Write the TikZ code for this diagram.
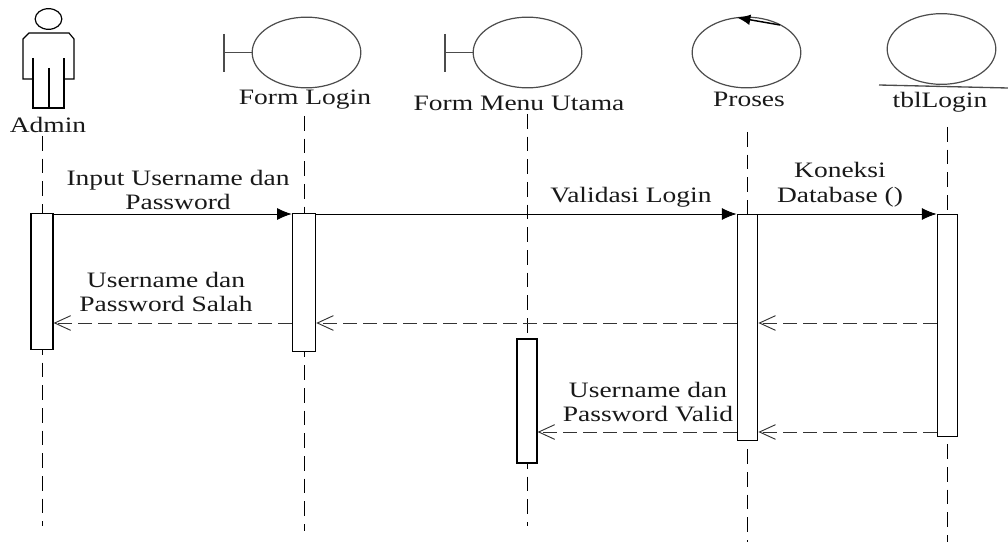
\documentclass[tikz,border=0pt]{standalone}
\usepackage{fontspec}
\setmainfont[FakeStretch=1.25]{Liberation Serif}
\usetikzlibrary{arrows.meta,shapes.geometric}
\tikzset{
  lbl/.style={inner sep=0pt,align=center,font=\fontsize{16.5}{18.5}\selectfont,text=black!90},
  head/.style={draw=black!70,line width=0.9pt,ellipse,inner sep=0pt,minimum width=81.5pt,minimum height=53pt},
  actorline/.style={draw=black,line width=0.9pt},
  bar/.style={draw=black!70,line width=1pt},
  life/.style={draw=black,line width=0.75pt,dash pattern=on 11pt off 6pt},
  act/.style={draw=black,fill=white,line width=0.85pt,inner sep=0pt,minimum width=17pt},
  call/.style={draw=black,line width=0.7pt,-{Latex[length=11pt,width=9pt]}},
  reply/.style={draw=black!80,line width=0.75pt,dash pattern=on 10pt off 5pt,-{Straight Barb[length=12pt,width=11pt,line width=0.7pt]}}
}
\begin{document}
\begin{tikzpicture}[x=0.75pt,y=-0.75pt]
\useasboundingbox (0,0) rectangle (1008,542);
% level coordinates
\coordinate (yA) at (0,214);
\coordinate (yB) at (0,323);
\coordinate (yC) at (0,432);
% lifeline ends
\coordinate (l1t) at (42,136); \coordinate (l1b) at (42,526);
\coordinate (l2t) at (304,116); \coordinate (l2b) at (304,531);
\coordinate (l3t) at (527,114); \coordinate (l3b) at (527,526);
\coordinate (l4t) at (747,132); \coordinate (l4b) at (747,542);
\coordinate (l5t) at (947,127); \coordinate (l5b) at (947,542);
\draw[life] (l1t) -- (l1b);
\draw[life] (l2t) -- (l2b);
\draw[life] (l3t) -- (l3b);
\draw[life] (l4t) -- (l4b);
\draw[life] (l5t) -- (l5b);
% activations
\node[act,minimum width=16.5pt,minimum height=101.5pt] (a1) at (42,281.5) {};
\node[act,minimum width=17.5pt,minimum height=103pt] (a2) at (304,282.5) {};
\node[act,minimum width=15pt,minimum height=93pt] (a3) at (527,401) {};
\node[act,minimum width=15.5pt,minimum height=170pt] (a4) at (747.5,327.5) {};
\node[act,minimum width=15.5pt,minimum height=167pt] (a5) at (947.5,325.5) {};
% actor
\node[draw=black,line width=0.9pt,ellipse,inner sep=0pt,minimum width=20pt,minimum height=15.5pt] (adminhead) at (48.5,19) {};
\draw[actorline] (33,58) -- (33,108) -- (64,108) -- (64,58);
\draw[actorline] (33,79) -- (23,79) -- (23,39) -- (29,33) -- (69,33) -- (74,39) -- (74,79) -- (64,79);
\draw[actorline] (49,68) -- (49,108);
% boundary
\node[head] (fl) at (306.5,52.5) {};
\coordinate (flb) at (224,52.5);
\draw[bar] (224,34) -- (224,72);
\draw[bar] (flb) -- (fl.west);
\node[head] (fm) at (527.5,52.5) {};
\coordinate (fmb) at (445,52.5);
\draw[bar] (445,34) -- (445,72);
\draw[bar] (fmb) -- (fm.west);
% control
\node[head] (pr) at (746.5,52.5) {};
\coordinate (ps) at (780,25);
\coordinate (pe) at (737,17.5);
\draw[black,line width=1.1pt,-{Latex[length=10pt,width=8pt]}] (ps) -- (pe);
% entity
\node[head] (tb) at (941.5,49) {};
\coordinate (tl) at (879,85); \coordinate (tr) at (1008,88);
\draw[draw=black!70,line width=1pt] (tl) -- (tr);
% names
\node[lbl] (n1) at (48,125) {Admin};
\node[lbl] (n2) at (305,100) {Form Login};
\node[lbl] (n3) at (519,103) {Form Menu Utama};
\node[lbl] (n4) at (749,99) {Proses};
\node[lbl] (n5) at (940,102) {tblLogin};
% messages
\draw[call] (a1.east |- yA) -- (a2.west |- yA);
\draw[call] (a2.east |- yA) -- (a4.west |- yA);
\draw[call] (a4.east |- yA) -- (a5.west |- yA);
\draw[reply] (a5.west |- yB) -- (a4.east |- yB);
\draw[reply] (a4.west |- yB) -- (a2.east |- yB);
\draw[reply] (a2.west |- yB) -- (a1.east |- yB);
\draw[reply] (a5.west |- yC) -- (a4.east |- yC);
\draw[reply] (a4.west |- yC) -- (a3.east |- yC);
% message labels
\node[lbl] (m1) at (178,190) {Input Username dan\\Password};
\node[lbl] (m2) at (631,197) {Validasi Login};
\node[lbl] (m3) at (840,185) {Koneksi\\Database ()};
\node[lbl] (m4) at (166,292) {Username dan\\Password Salah};
\node[lbl] (m5) at (648,402) {Username dan\\Password Valid};
\end{tikzpicture}
\end{document}
